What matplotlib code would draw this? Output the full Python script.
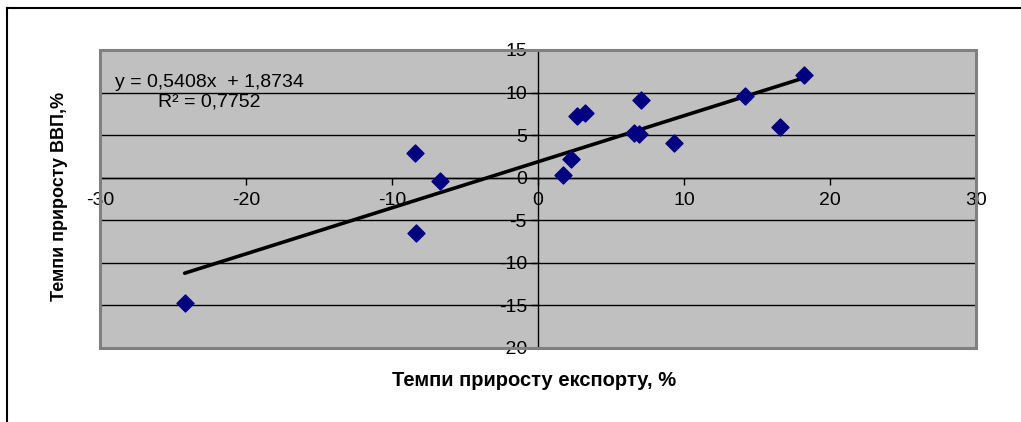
import numpy as np
import matplotlib
matplotlib.use("Agg")
from matplotlib import pyplot as plt
from matplotlib.lines import Line2D

plt.rcParams['font.family'] = ['Liberation Sans', 'DejaVu Sans']
plt.rcParams['axes.unicode_minus'] = False

# export growth rate, % (x) and GDP growth rate, % (y)
export_growth = [-24.2, -8.4, -8.35, -6.7, 1.7, 2.25, 2.7, 3.2, 6.55, 6.95, 7.05, 9.3, 14.15, 16.55, 18.2]
gdp_growth = [-14.75, 2.95, -6.55, -0.4, 0.3, 2.25, 7.3, 7.55, 5.2, 5.1, 9.1, 4.1, 9.6, 5.9, 12.1]

# trendline as reported in the chart
slope = 0.5408
intercept = 1.8734
r2 = 0.7752

x_ticks = [-30, -20, -10, 0, 10, 20, 30]
y_ticks = [-20, -15, -10, -5, 0, 5, 10, 15]

fig = plt.figure(figsize=(10.21, 4.22), dpi=100)

# outer chart frame (only top and left visible)
fig.add_artist(Line2D([7 / 1021, 1.0], [1 - 8 / 422, 1 - 8 / 422], color='black', lw=1.5))
fig.add_artist(Line2D([7 / 1021, 7 / 1021], [0.0, 1 - 8 / 422], color='black', lw=1.5))

ax = fig.add_axes([100 / 1021, 74 / 422, 876 / 1021, 298 / 422])
ax.set_facecolor('#c0c0c0')
ax.set_xlim(-30, 30)
ax.set_ylim(-20, 15)

# horizontal gridlines
for yv in y_ticks[1:-1]:
    ax.axhline(yv, color='black', lw=1, zorder=1)

# axes crossing at origin
for side in ['top', 'right']:
    ax.spines[side].set_visible(False)
ax.spines['left'].set_position(('data', 0))
ax.spines['bottom'].set_position(('data', 0))
for side in ['left', 'bottom']:
    ax.spines[side].set_color('black')
    ax.spines[side].set_linewidth(1)
    ax.spines[side].set_zorder(2)

# gray plot-area border
border = plt.Rectangle((0, 0), 1, 1, transform=ax.transAxes, fill=False,
                       edgecolor='#808080', lw=2.2, zorder=5, clip_on=False)
ax.add_patch(border)

ax.set_xticks(x_ticks)
ax.set_yticks(y_ticks)
ax.tick_params(axis='both', direction='out', length=5, width=1, labelsize=14, colors='black')
ax.tick_params(axis='x', pad=5)
ax.tick_params(axis='y', pad=3)

ax.scatter(export_growth, gdp_growth, marker='D', s=75, color='#000080', zorder=4)

xs = np.array([min(export_growth), max(export_growth)])
ax.plot(xs, slope * xs + intercept, color='black', lw=2.6, zorder=3, solid_capstyle='round')

ax.text(-29.0, 11.2, 'y = 0,5408x  + 1,8734', fontsize=14, ha='left', va='center')
ax.text(-26.0, 8.9, 'R² = 0,7752', fontsize=14, ha='left', va='center')

fig.text(534 / 1021, 1 - 381 / 422, 'Темпи приросту експорту, %', fontsize=14.5,
         fontweight='bold', ha='center', va='center')
fig.text(60 / 1021, 1 - 196 / 422, 'Темпи приросту ВВП,%', fontsize=13,
         fontweight='bold', ha='center', va='center', rotation=90)

fig.savefig('out.png', dpi=100)
